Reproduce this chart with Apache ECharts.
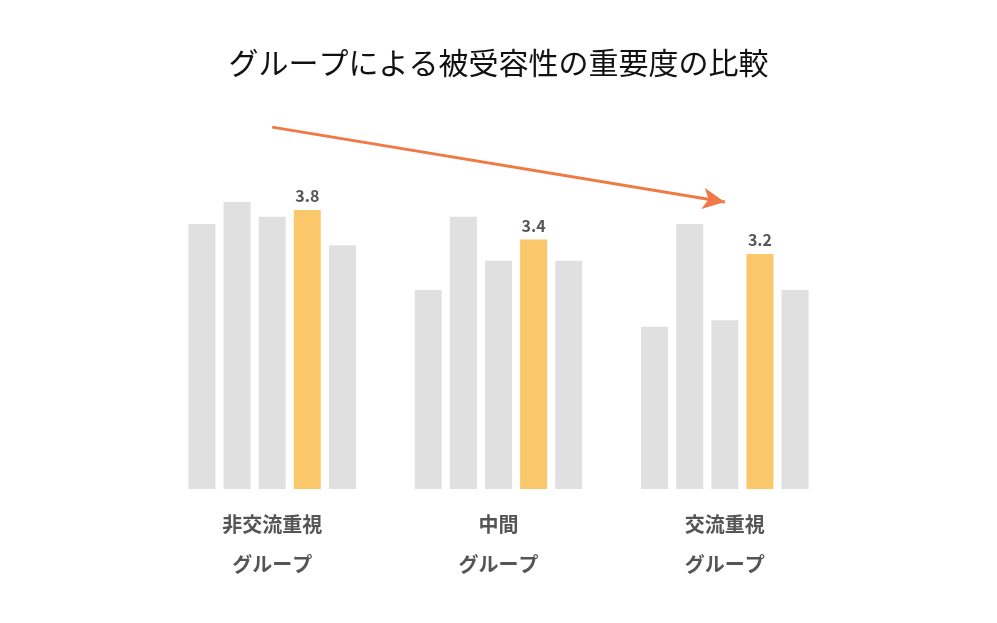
<!DOCTYPE html>
<html><head><meta charset="utf-8">
<script src="https://cdn.jsdelivr.net/npm/echarts@6/dist/echarts.min.js"></script>
<style>html,body{margin:0;padding:0;background:#fff}#c{width:997px;height:623px}</style>
</head><body><div id="c"></div>
<script>
const categories = ['非交流重視\nグループ', '中間\nグループ', '交流重視\nグループ'];
const s1 = [3.61, 2.71, 2.21];
const s2 = [3.91, 3.71, 3.61];
const s3 = [3.71, 3.11, 2.30];
const highlight = [3.8, 3.4, 3.2];
const s5 = [3.32, 3.11, 2.71];
const arrowFrom = [0, 4.93];
const arrowTo = [2, 3.91];

const font = '"Noto Sans CJK JP", "Noto Sans", sans-serif';
const grey = '#E0E0E0';
function greySeries(d){return {type:'bar', data:d, barGap:'30%', barCategoryGap:'26%', itemStyle:{color:grey}, silent:true};}
const chart = echarts.init(document.getElementById('c'));
chart.setOption({
  animation:false,
  title:{text:'グループによる被受容性の重要度の比較', left:'center', top:43,
    textStyle:{fontFamily:font, fontSize:30, fontWeight:'normal', color:'#111'}},
  grid:{left:159, right:159, top:122, bottom:134},
  xAxis:{type:'category', data:categories, axisLine:{show:false}, axisTick:{show:false},
    axisLabel:{margin:15, fontFamily:font, fontSize:20, fontWeight:'bold', color:'#555', lineHeight:40}},
  yAxis:{type:'value', min:0, max:5, show:false, splitLine:{show:false}},
  series:[
    greySeries(s1), greySeries(s2),
    Object.assign(greySeries(s3), {
      markLine:{silent:true, symbol:['none','arrow'], symbolSize:[16,22],
        lineStyle:{color:'#F07A45', width:3, type:'solid'}, label:{show:false},
        data:[[{coord:[arrowFrom[0], arrowFrom[1]]},{coord:[arrowTo[0], arrowTo[1]]}]]}
    }),
    {type:'bar', data:highlight, itemStyle:{color:'#FAC86B'},
      label:{show:true, position:'top', distance:6, fontFamily:font, fontSize:16, fontWeight:'bold', color:'#555', formatter:p=>p.value.toFixed(1)}},
    greySeries(s5)
  ]
});
</script></body></html>
